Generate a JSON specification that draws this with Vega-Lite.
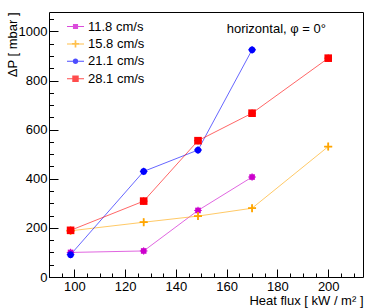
{
  "$schema": "https://vega.github.io/schema/vega-lite/v6.json",
  "autosize": "none",
  "width": 314,
  "height": 265,
  "padding": {"left": 49, "top": 12, "right": 11, "bottom": 31},
  "background": "white",
  "config": {
    "font": "Liberation Sans",
    "view": {"stroke": "black", "strokeWidth": 1},
    "axis": {"domain": false, "grid": false, "tickColor": "black", "tickWidth": 1, "labelColor": "black", "titleColor": "black", "labelFontSize": 13, "titleFontSize": 13, "titleFontWeight": "normal", "labelFlush": false, "labelOverlap": false},
    "legend": {"orient": "none", "legendX": 18, "legendY": 6, "padding": 0, "symbolSize": 289, "symbolStrokeWidth": 0, "labelFontSize": 13, "labelColor": "black", "labelOffset": 4, "rowPadding": 1.4}
  },
  "data": {"values": [
    {"series": "11.8 cm/s", "q": 98.5, "dp": 100, "ex": 1.5, "ey": 15},
    {"series": "11.8 cm/s", "q": 127.3, "dp": 106, "ex": 1.5, "ey": 15},
    {"series": "11.8 cm/s", "q": 148.7, "dp": 271, "ex": 1.5, "ey": 15},
    {"series": "11.8 cm/s", "q": 170, "dp": 407, "ex": 1.5, "ey": 15},
    {"series": "15.8 cm/s", "q": 98.5, "dp": 188, "ex": 1.5, "ey": 15},
    {"series": "15.8 cm/s", "q": 127.3, "dp": 223, "ex": 1.5, "ey": 15},
    {"series": "15.8 cm/s", "q": 148.7, "dp": 248, "ex": 1.5, "ey": 15},
    {"series": "15.8 cm/s", "q": 170, "dp": 280, "ex": 1.5, "ey": 15},
    {"series": "15.8 cm/s", "q": 200, "dp": 531, "ex": 1.5, "ey": 15},
    {"series": "21.1 cm/s", "q": 98.5, "dp": 91, "ex": 1.5, "ey": 15},
    {"series": "21.1 cm/s", "q": 127.3, "dp": 430, "ex": 1.5, "ey": 15},
    {"series": "21.1 cm/s", "q": 148.7, "dp": 517, "ex": 1.5, "ey": 15},
    {"series": "21.1 cm/s", "q": 170, "dp": 925, "ex": 1.5, "ey": 15},
    {"series": "28.1 cm/s", "q": 98.5, "dp": 190, "ex": 1.5, "ey": 15},
    {"series": "28.1 cm/s", "q": 127.3, "dp": 309, "ex": 1.5, "ey": 15},
    {"series": "28.1 cm/s", "q": 148.7, "dp": 555, "ex": 1.5, "ey": 15},
    {"series": "28.1 cm/s", "q": 170, "dp": 667, "ex": 1.5, "ey": 15},
    {"series": "28.1 cm/s", "q": 200, "dp": 891, "ex": 1.5, "ey": 15}
  ]},
  "resolve": {"axis": {"x": "independent", "y": "independent"}},
  "layer": [
    {
      "mark": {"type": "line", "strokeWidth": 1, "opacity": 0.6},
      "encoding": {
        "x": {"field": "q", "type": "quantitative", "scale": {"domain": [90, 213.7], "nice": false, "zero": false},
          "axis": {"orient": "bottom", "values": [100, 120, 140, 160, 180, 200], "format": "d", "tickSize": -8, "labelPadding": 11, "title": "Heat flux [ kW / m² ]", "titleFontWeight": "normal", "titleAnchor": "end", "titleAlign": "right", "titleBaseline": "alphabetic", "titleX": 314, "titleY": 27}},
        "y": {"field": "dp", "type": "quantitative", "scale": {"domain": [0, 1079], "nice": false},
          "axis": {"orient": "left", "values": [0, 200, 400, 600, 800, 1000], "format": "d", "tickSize": -9, "labelPadding": 11, "title": "ΔP [ mbar ]", "titleFontWeight": "normal", "titleAngle": -90, "titleAlign": "right", "titleBaseline": "middle", "titleX": -37, "titleY": 0}},
        "stroke": {"field": "series", "type": "nominal", "legend": null,
          "scale": {"domain": ["28.1 cm/s", "21.1 cm/s", "15.8 cm/s", "11.8 cm/s"], "range": ["#ff0000", "#0000ff", "#ffa500", "#cc00cc"]}}
      }
    },
    {
      "mark": {"type": "errorbar", "thickness": 1},
      "encoding": {
        "x": {"field": "q", "type": "quantitative", "axis": null},
        "xError": {"field": "ex"},
        "y": {"field": "dp", "type": "quantitative", "axis": null},
        "stroke": {"field": "series", "type": "nominal", "legend": null}
      }
    },
    {
      "mark": {"type": "errorbar", "thickness": 1},
      "encoding": {
        "y": {"field": "dp", "type": "quantitative", "axis": null},
        "yError": {"field": "ey"},
        "x": {"field": "q", "type": "quantitative", "axis": null},
        "stroke": {"field": "series", "type": "nominal", "legend": null}
      }
    },
    {
      "transform": [{"filter": "datum.series === '11.8 cm/s'"}],
      "mark": {"type": "point", "filled": true, "opacity": 1, "size": 64, "strokeWidth": 0, "color": "#cc00cc", "shape": "M-0.7,-0.7H0.7V0.7H-0.7Z"},
      "encoding": {
        "x": {"field": "q", "type": "quantitative",
          "axis": {"orient": "bottom", "values": [90, 95, 105, 110, 115, 125, 130, 135, 145, 150, 155, 165, 170, 175, 185, 190, 195, 205, 210], "tickSize": -4, "labels": false, "title": null}},
        "y": {"field": "dp", "type": "quantitative",
          "axis": {"orient": "left", "values": [50, 100, 150, 250, 300, 350, 450, 500, 550, 650, 700, 750, 850, 900, 950, 1050], "tickSize": -4.5, "labels": false, "title": null}}
      }
    },
    {
      "transform": [{"filter": "datum.series === '15.8 cm/s'"}],
      "mark": {"type": "point", "filled": true, "opacity": 1, "size": 64, "strokeWidth": 0, "color": "#ffa500", "shape": "M-1,-0.22H1V0.22H-1Z M-0.22,-1H0.22V1H-0.22Z"},
      "encoding": {
        "x": {"field": "q", "type": "quantitative", "axis": null},
        "y": {"field": "dp", "type": "quantitative", "axis": null}
      }
    },
    {
      "transform": [{"filter": "datum.series === '21.1 cm/s'"}],
      "mark": {"type": "point", "filled": true, "opacity": 1, "size": 64, "strokeWidth": 0, "color": "#0000ff", "shape": "M0.85,0A0.85,0.85 0 1,1 -0.85,0A0.85,0.85 0 1,1 0.85,0Z"},
      "encoding": {
        "x": {"field": "q", "type": "quantitative", "axis": null},
        "y": {"field": "dp", "type": "quantitative", "axis": null}
      }
    },
    {
      "transform": [{"filter": "datum.series === '28.1 cm/s'"}],
      "mark": {"type": "point", "filled": true, "opacity": 1, "size": 64, "strokeWidth": 0, "color": "#ff0000", "shape": "M-0.95,-0.95H0.95V0.95H-0.95Z"},
      "encoding": {
        "x": {"field": "q", "type": "quantitative", "axis": null},
        "y": {"field": "dp", "type": "quantitative", "axis": null}
      }
    },
    {
      "transform": [{"filter": "datum.q < 0"}],
      "mark": {"type": "point", "filled": true},
      "encoding": {
        "x": {"field": "q", "type": "quantitative", "axis": null},
        "y": {"field": "dp", "type": "quantitative", "axis": null},
        "color": {"field": "series", "type": "nominal",
          "scale": {"domain": ["11.8 cm/s", "15.8 cm/s", "21.1 cm/s", "28.1 cm/s"], "range": ["#cc00cc", "#ffa500", "#0000ff", "#ff0000"]},
          "legend": {"orient": "none", "legendX": 18, "legendY": 6, "title": null}},
        "shape": {"field": "series", "type": "nominal",
          "scale": {"domain": ["11.8 cm/s", "15.8 cm/s", "21.1 cm/s", "28.1 cm/s"],
            "range": [
              "M-1,-0.06H-0.3V0.06H-1Z M0.3,-0.06H1V0.06H0.3Z M-0.3,-0.3H0.3V0.3H-0.3Z",
              "M-1,-0.06H-0.42V0.06H-1Z M0.42,-0.06H1V0.06H0.42Z M-0.42,-0.1H0.42V0.1H-0.42Z M-0.1,-0.42H0.1V0.42H-0.1Z",
              "M-1,-0.06H-0.33V0.06H-1Z M0.33,-0.06H1V0.06H0.33Z M0.33,0A0.33,0.33 0 1,1 -0.33,0A0.33,0.33 0 1,1 0.33,0Z",
              "M-1,-0.06H-0.38V0.06H-1Z M0.38,-0.06H1V0.06H0.38Z M-0.38,-0.38H0.38V0.38H-0.38Z"
            ]},
          "legend": {"orient": "none", "legendX": 18, "legendY": 6, "title": null}}
      }
    },
    {
      "data": {"values": [{"label": "horizontal, φ = 0°"}]},
      "mark": {"type": "text", "align": "left", "baseline": "middle", "fontSize": 13, "color": "black"},
      "encoding": {
        "x": {"datum": 160, "type": "quantitative", "axis": null},
        "y": {"datum": 1011, "type": "quantitative", "axis": null},
        "text": {"field": "label"}
      }
    }
  ]
}
